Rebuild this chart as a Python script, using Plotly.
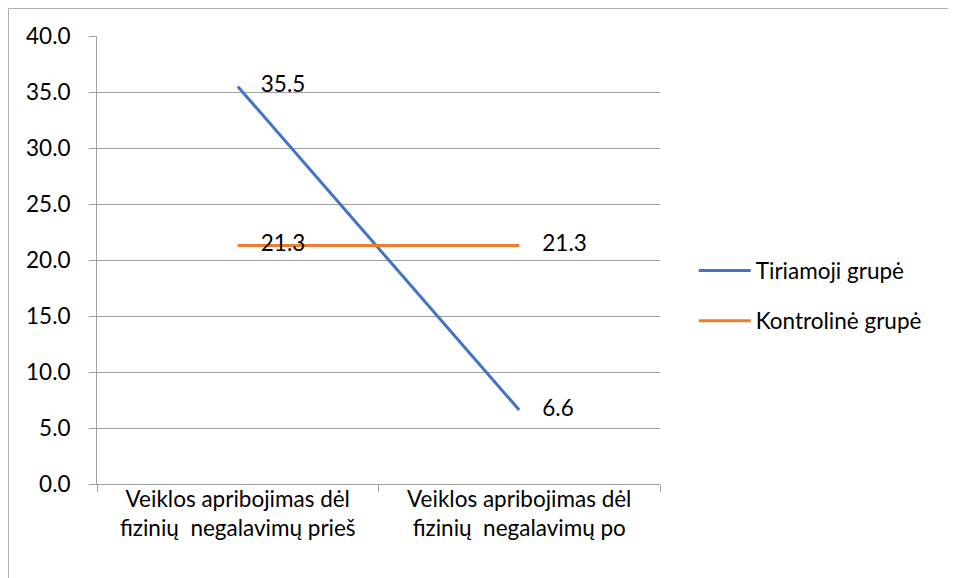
import plotly.graph_objects as go

categories = ["Veiklos apribojimas dėl<br>fizinių\u00a0 negalavimų prieš",
              "Veiklos apribojimas dėl<br>fizinių\u00a0 negalavimų po"]
tiriamoji = [35.5, 6.6]
kontroline = [21.3, 21.3]
series_names = ["Tiriamoji grupė", "Kontrolinė grupė"]
y_ticks = [0, 5, 10, 15, 20, 25, 30, 35, 40]

FONT = "Lato, Open Sans, sans-serif"
FS = 22.5
PAD = "\u00a0\u00a0\u00a0\u00a0"
fig = go.Figure()
fig.add_trace(go.Scatter(x=categories, y=tiriamoji, mode="lines+text", name=series_names[0],
                         line=dict(color="#4472C4", width=3), legendgroup="a",
                         text=[PAD + f"{v:.1f}" for v in tiriamoji], textposition="middle right",
                         textfont=dict(size=FS, color="#000000", family=FONT)))
fig.add_trace(go.Scatter(x=categories, y=kontroline, mode="lines+text", name=series_names[1],
                         line=dict(color="#ED7D31", width=3), legendgroup="b",
                         text=[PAD + f"{v:.1f}" for v in kontroline], textposition="middle right",
                         textfont=dict(size=FS, color="#000000", family=FONT)))

W, H = 948, 570
fig.update_layout(
    width=W, height=H,
    margin=dict(l=89, r=296, t=28, b=94),
    paper_bgcolor="white", plot_bgcolor="white",
    font=dict(family=FONT, size=FS, color="#000000"),
    showlegend=True,
    legend=dict(x=1.06, y=0.42, xanchor="left", yanchor="middle", itemwidth=52,
                tracegroupgap=18, font=dict(size=FS), bgcolor="rgba(0,0,0,0)"),
    xaxis=dict(type="category", range=[-0.5, 1.5], showgrid=False, ticks="outside",
               tickson="boundaries", ticklen=7, tickcolor="#A0A0A0", showline=True,
               linecolor="#A0A0A0", linewidth=1, zeroline=False, ticklabelstandoff=-5,
               tickfont=dict(size=FS, family=FONT)),
    yaxis=dict(range=[0, 40], tickvals=y_ticks, ticktext=[f"{v:.1f}" for v in y_ticks],
               showgrid=True, gridcolor="#A0A0A0", gridwidth=1, ticks="outside",
               ticklen=7, tickcolor="#A0A0A0", showline=True, linecolor="#A0A0A0",
               zeroline=False, ticklabelstandoff=14, tickfont=dict(size=FS, family=FONT)),
    shapes=[dict(type="rect", xref="paper", yref="paper",
                 x0=-88.5/563, x1=1.8, y0=-0.5, y1=(476-0.5)/448,
                 line=dict(color="#B0B0B0", width=1), fillcolor="rgba(0,0,0,0)", layer="below")],
)
fig.write_html("out.html")
